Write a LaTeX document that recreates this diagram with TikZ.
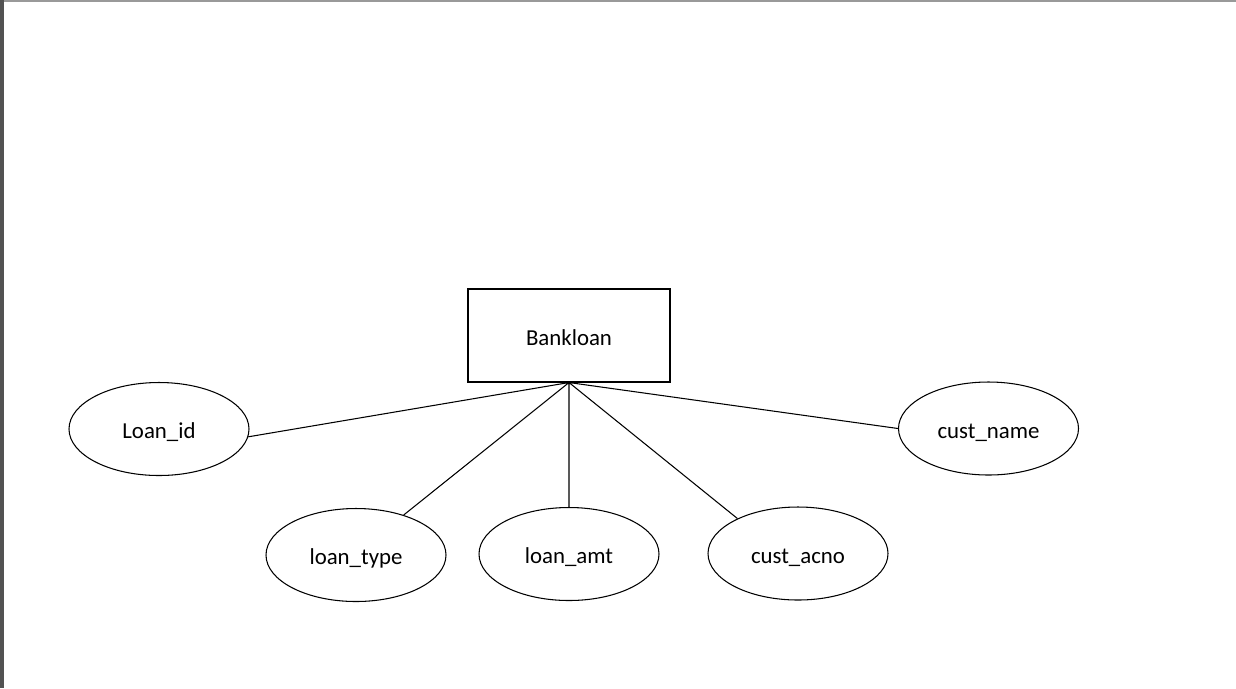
\documentclass[tikz,border=0pt]{standalone}
\usepackage{fontspec}
\setmainfont{Carlito}
\usepackage{tikz}
\usetikzlibrary{shapes}
\tikzstyle{entity} = [rectangle, draw, line width=0.6pt, inner sep=0pt,
    text height=11pt, text depth=0pt,
    minimum width=4.04cm, minimum height=1.86cm, font=\fontsize{13}{15}\selectfont]
\tikzstyle{attrib} = [ellipse, draw, line width=0.6pt, inner sep=0pt,
    text height=11pt, text depth=0pt,
    minimum width=3.6cm, minimum height=1.86cm, font=\fontsize{13}{15}\selectfont]

\begin{document}
\begin{tikzpicture}[line width=0.6pt]
  \useasboundingbox (0,0) rectangle (24.72,-13.76);
  % page edge of the screenshot
  \fill[black!40] (0,0) rectangle (24.72,-0.04);
  \fill[black!68] (0,0) rectangle (0.09,-13.76);

  \node[entity] (bank)     at (11.38,-6.71)  {Bankloan};
  \node[attrib] (loanid)   at (3.18,-8.58)   {Loan\_id};
  \node[attrib] (loantype) at (7.12,-11.10)  {loan\_type};
  \node[attrib] (loanamt)  at (11.38,-11.08) {loan\_amt};
  \node[attrib] (custacno) at (15.96,-11.07) {cust\_acno};
  \node[attrib] (custname) at (19.77,-8.57)  {cust\_name};

  \draw (bank.south) -- (loanid.-5)
        (bank.south) -- (loantype.40)
        (bank.south) -- (loanamt.north)
        (bank.south) -- (custacno.150)
        (bank.south) -- (custname.west);
\end{tikzpicture}
\end{document}
